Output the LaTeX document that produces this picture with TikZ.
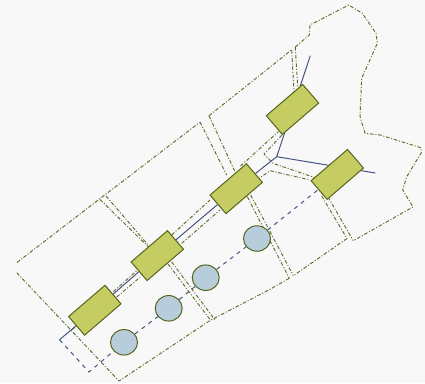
\documentclass[tikz,border=0pt]{standalone}
\usetikzlibrary{shapes.geometric,backgrounds}
\definecolor{bgc}{HTML}{F8F8F8}
\definecolor{olivefill}{HTML}{C4CC62}
\definecolor{oliveedge}{HTML}{56641C}
\definecolor{bluefill}{HTML}{B7CDDB}
\definecolor{wire}{HTML}{44557F}
\definecolor{bound}{HTML}{666C2E}
\tikzset{
  unitbox/.style={draw=oliveedge,fill=olivefill,line width=1pt,rectangle,rotate=40.7,minimum width=48pt,minimum height=24.5pt,inner sep=0pt},
  tank/.style={draw=oliveedge,fill=bluefill,line width=1pt,ellipse,minimum width=27pt,minimum height=25.5pt,inner sep=0pt},
  wiresolid/.style={draw=wire,line width=1pt},
  wiredash/.style={draw=wire,line width=1pt,dash pattern=on 4pt off 4.5pt},
  boundary/.style={draw=bound,line width=0.95pt,dash pattern=on 3.6pt off 1.8pt on 1pt off 1.8pt,line join=round}
}
\begin{document}
\begin{tikzpicture}[x=1pt,y=-1pt]
\useasboundingbox (0,0) rectangle (425,383);
\node[unitbox] (r1) at (94.8,310.2) {};
\node[unitbox] (r2) at (157.3,255.6) {};
\node[unitbox] (r3) at (236.2,188.7) {};
\node[unitbox] (r4) at (292.5,109.4) {};
\node[unitbox] (r5) at (337.3,174.4) {};
\node[tank] (c1) at (124,342.3) {};
\node[tank] (c2) at (168.7,308.3) {};
\node[tank] (c3) at (205.7,277.7) {};
\node[tank] (c4) at (257,238.5) {};
\coordinate (wa) at (59.5,339.7);
\coordinate (wb) at (89,372);
\coordinate (wj) at (276.7,156.7);
\coordinate (wt) at (310.3,55.7);
\coordinate (we) at (375.3,173);
\begin{pgfonlayer}{background}
\fill[bgc] (0,0) rectangle (425,383);
% outer outline
\draw[boundary] (17,262.5) -- (99.5,199) -- (199.5,122.5);
\draw[boundary] (209,115.7) -- (291.5,50);
\draw[boundary] (295.3,47) -- (309.3,35) -- (310,25) -- (348.7,5) -- (362.3,13.3) -- (376,33.3) -- (377.3,43.3) -- (361.7,78.3) -- (360,116.7) -- (365,133.3) -- (380,135) -- (421,147.7) -- (421.3,152.7) -- (406.7,176.7) -- (402.7,190) -- (413,207) -- (353.3,240.7);
\draw[boundary] (347,238.5) -- (293.3,275.7);
\draw[boundary] (289.3,278.3) -- (268.7,290) -- (210,320.5) -- (119,381) -- (16.7,272.7);
% cross streets
\draw[boundary] (100,199.5) -- (r2);
\draw[boundary] (106,196) -- (r2);
\draw[boundary] (200,122) -- (226.7,175);
\draw[boundary] (209,115.7) -- (235,171.7);
\draw[boundary] (291.7,50) -- (294,91.7);
\draw[boundary] (295.3,47) -- (297.7,86.7);
\draw[boundary] (168,264) -- (210,319.5);
\draw[boundary] (171.7,262) -- (215,320);
\draw[boundary] (247.3,196.7) -- (289.3,278.3);
\draw[boundary] (250.7,195) -- (293.3,275.7);
\draw[boundary] (321.7,196) -- (347,238.5);
\draw[boundary] (328,197) -- (353.3,240.7);
% main road edges
\draw[boundary] (72,329.5) -- (77,325.5);
\draw[boundary] (113.3,291.7) -- (138.3,269.3);
\draw[boundary] (116.7,297) -- (140,277.3);
\draw[boundary] (171.7,235) -- (210,200);
\draw[boundary] (181.7,243.3) -- (220,210);
\draw[boundary] (240.5,166) -- (278.3,131.7);
\draw[boundary] (282,135) -- (264,154) -- (273,163.3) -- (315,177.7);
\draw[boundary] (256.7,180) -- (270,170.7) -- (310,180);
% wires
\draw[wiresolid] (wa) -- (r1) -- (r2) -- (r3) -- (wj) -- (r4) -- (wt);
\draw[wiresolid] (wj) -- (we);
\draw[wiredash] (wa) -- (wb) -- (c1) -- (c2) -- (c3) -- (c4) -- (r5);
\end{pgfonlayer}
\end{tikzpicture}
\end{document}
